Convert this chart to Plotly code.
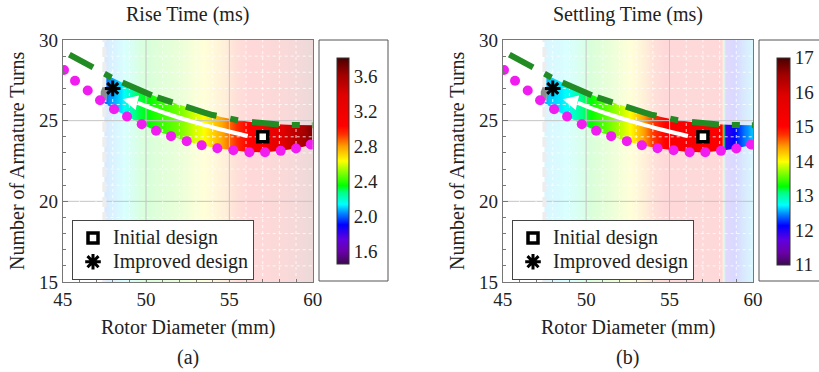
import numpy as np
import plotly.graph_objects as go

W, H = 819, 372
FONT = "Liberation Serif, Times New Roman, serif"
TXT = "#222222"

X_RANGE = [45, 60]
Y_RANGE = [15, 30]
X_TICKS = [45, 50, 55, 60]
Y_TICKS = [15, 20, 25, 30]
X_MAJOR_GRID = [50, 55]
Y_MAJOR_GRID = [20, 25]
X_MINOR_GRID = [46, 47, 48, 49, 51, 52, 53, 54, 56, 57, 58, 59]
Y_MINOR_GRID = [16, 17, 18, 19, 21, 22, 23, 24, 26, 27, 28, 29]

# feasible-region boundaries
upper_x = [45.4, 46.0, 46.5, 47.0, 47.5, 48.0, 48.5, 49.0, 49.5, 50.0, 50.5, 51.0, 51.5, 52.0, 52.5,
           53.0, 53.5, 54.0, 54.5, 55.0, 55.5, 56.0, 56.5, 57.0, 57.5, 58.0, 58.5, 59.0, 59.5, 60.0]
upper_y = [29.1, 28.75, 28.5, 28.2, 27.9, 27.63, 27.4, 27.15, 26.95, 26.7, 26.5, 26.33, 26.15, 26.0, 25.82,
           25.66, 25.5, 25.35, 25.22, 25.12, 25.03, 24.95, 24.88, 24.83, 24.79, 24.76, 24.74, 24.73, 24.72, 24.72]
lower_x = [45.08, 45.74, 46.5, 47.24, 48.08, 48.86, 49.74, 50.6, 51.5, 52.44, 53.34, 54.28, 55.24,
           56.2, 57.14, 58.08, 59.0, 59.88]
lower_y = [28.14, 27.47, 26.87, 26.27, 25.71, 25.26, 24.78, 24.37, 24.04, 23.73, 23.48, 23.29, 23.17,
           23.04, 23.04, 23.13, 23.27, 23.52]

# response values along rotor diameter
rise_x = [47.5, 48.0, 48.5, 49.0, 49.5, 50.0, 51.0, 52.0, 53.0, 53.5, 54.0, 54.5, 55.0, 55.5, 56.0,
          57.0, 58.0, 59.0, 60.0]
rise_val = [2.02, 2.07, 2.12, 2.21, 2.31, 2.35, 2.42, 2.49, 2.59, 2.64, 2.71, 2.78, 2.87, 2.96, 3.03,
            3.15, 3.34, 3.53, 3.67]
settle_x = [47.5, 48.0, 48.5, 49.0, 49.5, 50.0, 50.5, 51.0, 51.5, 52.0, 52.5, 53.0, 53.5, 54.0, 54.5,
            55.0, 56.0, 57.0, 58.0, 58.15, 58.3, 58.5, 59.0, 59.5, 60.0]
settle_val = [12.6, 12.65, 12.7, 12.8, 13.0, 13.2, 13.35, 13.5, 13.65, 13.8, 13.95, 14.2, 14.45, 14.75, 14.95,
              15.1, 15.2, 15.2, 15.15, 15.1, 11.9, 12.0, 12.2, 12.45, 12.6]
rise_ticks = [1.6, 2.0, 2.4, 2.8, 3.2, 3.6]
settle_ticks = [11, 12, 13, 14, 15, 16, 17]
rise_range = [1.46, 3.81]
settle_range = [11, 17]

# infeasible grey patch
gray_x = [47.28, 47.62, 47.66, 47.4, 47.28]
gray_y = [26.35, 26.25, 26.95, 27.1, 26.8]

# improvement arrow path
arrow_x = [56.1, 54.5, 53.0, 51.5, 50.3, 49.5]
arrow_y = [24.05, 24.45, 24.88, 25.35, 25.78, 26.1]
arrow_tip = (48.6, 26.32)

initial = (57, 24)
improved = (48, 27)
legend_names = ['Initial design', 'Improved design']

colorscale = [
    [0.0, '#3c0a50'], [0.06, '#6a00a8'], [0.12, '#6000e0'], [0.19, '#0000ff'],
    [0.25, '#0090ff'], [0.29, '#00ffff'], [0.35, '#00ff80'], [0.38, '#00ff00'],
    [0.45, '#90ff00'], [0.50, '#ffff00'], [0.57, '#ffa000'], [0.63, '#ff3000'],
    [0.67, '#ff0000'], [0.82, '#e00000'], [0.92, '#a00000'], [1.0, '#4a0000'],
]


def edges(c):
    c = np.asarray(c, float)
    mids = (c[:-1] + c[1:]) / 2
    return np.concatenate([[c[0]], mids, [c[-1]]])


def grid_lines(xs, ys):
    gx, gy = [], []
    for v in xs:
        gx += [v, v, None]
        gy += [Y_RANGE[0], Y_RANGE[1], None]
    for v in ys:
        gx += [X_RANGE[0], X_RANGE[1], None]
        gy += [v, v, None]
    return gx, gy


def big(t):
    return f'<span style="font-size:20px">{t}</span>'


fig = go.Figure()

panels = [
    dict(xa='x', ya='y', vx=rise_x, vv=rise_val, cax='coloraxis', legend='legend'),
    dict(xa='x2', ya='y2', vx=settle_x, vv=settle_val, cax='coloraxis2', legend='legend2'),
]

for p in panels:
    xa, ya = p['xa'], p['ya']
    fig.add_trace(go.Heatmap(x=edges(p['vx']), y=[Y_RANGE[0], 22.5, Y_RANGE[1]],
                             z=[p['vv'], p['vv']], zsmooth='best', coloraxis=p['cax'],
                             hoverinfo='skip', xaxis=xa, yaxis=ya, showlegend=False))
    # faded area outside the feasible band
    fig.add_trace(go.Scatter(x=[X_RANGE[0]] + upper_x + [X_RANGE[1], X_RANGE[0]],
                             y=[upper_y[0]] + upper_y + [Y_RANGE[1], Y_RANGE[1]],
                             fill='toself', fillcolor='rgba(255,255,255,0.85)', mode='lines',
                             line=dict(width=0), xaxis=xa, yaxis=ya, showlegend=False, hoverinfo='skip'))
    fig.add_trace(go.Scatter(x=[X_RANGE[0]] + lower_x + [X_RANGE[1], X_RANGE[1], X_RANGE[0]],
                             y=[lower_y[0]] + lower_y + [lower_y[-1], Y_RANGE[0], Y_RANGE[0]],
                             fill='toself', fillcolor='rgba(255,255,255,0.85)', mode='lines',
                             line=dict(width=0), xaxis=xa, yaxis=ya, showlegend=False, hoverinfo='skip'))
    gx, gy = grid_lines(X_MAJOR_GRID, Y_MAJOR_GRID)
    fig.add_trace(go.Scatter(x=gx, y=gy, mode='lines', line=dict(color='#c4c4c4', width=1),
                             xaxis=xa, yaxis=ya, showlegend=False, hoverinfo='skip'))
    gx, gy = grid_lines(X_MINOR_GRID, Y_MINOR_GRID)
    fig.add_trace(go.Scatter(x=gx, y=gy, mode='lines',
                             line=dict(color='rgba(255,255,255,0.8)', width=1, dash='dot'),
                             xaxis=xa, yaxis=ya, showlegend=False, hoverinfo='skip'))
    fig.add_trace(go.Scatter(x=[rise_x[0], rise_x[0]], y=Y_RANGE, mode='lines',
                             line=dict(color='#ededed', width=4, dash='10px,5px'),
                             xaxis=xa, yaxis=ya, showlegend=False, hoverinfo='skip'))
    fig.add_trace(go.Scatter(x=gray_x, y=gray_y, fill='toself', fillcolor='#8c8c8c', mode='lines',
                             line=dict(width=0), xaxis=xa, yaxis=ya, showlegend=False, hoverinfo='skip'))
    fig.add_trace(go.Scatter(x=upper_x, y=upper_y, mode='lines',
                             line=dict(color='#238b23', width=6,
                                       dash='27px,13px,8px,12px,32px,6px,16px,14px,32px,14px,8px,14px'),
                             xaxis=xa, yaxis=ya, showlegend=False, hoverinfo='skip'))
    fig.add_trace(go.Scatter(x=lower_x, y=lower_y, mode='markers',
                             marker=dict(color='#f01cf0', size=10),
                             xaxis=xa, yaxis=ya, showlegend=False, hoverinfo='skip'))
    fig.add_trace(go.Scatter(x=arrow_x, y=arrow_y, mode='lines',
                             line=dict(color='white', width=4, shape='spline'),
                             xaxis=xa, yaxis=ya, showlegend=False, hoverinfo='skip'))
    fig.add_trace(go.Scatter(x=[initial[0]], y=[initial[1]], mode='markers', name=big(legend_names[0]),
                             marker=dict(symbol='square', size=10, color='white',
                                         line=dict(color='black', width=3.5)),
                             xaxis=xa, yaxis=ya, legend=p['legend']))
    fig.add_trace(go.Scatter(x=[improved[0]], y=[improved[1]], mode='markers', name=big(legend_names[1]),
                             marker=dict(symbol='asterisk-open', size=13, color='black',
                                         line=dict(color='black', width=3)),
                             xaxis=xa, yaxis=ya, legend=p['legend']))
    fig.add_annotation(x=arrow_tip[0], y=arrow_tip[1], ax=arrow_x[-1], ay=arrow_y[-1],
                       xref=xa, yref=ya, axref=xa, ayref=ya, text='', showarrow=True,
                       arrowhead=2, arrowsize=0.75, arrowwidth=4, arrowcolor='white', standoff=0)

axis_common = dict(showline=True, mirror=True, linecolor='#777777', linewidth=1,
                   ticks='inside', ticklen=5, tickcolor='#777777', showgrid=False, zeroline=False,
                   tickfont=dict(family=FONT, size=19, color=TXT),
                   minor=dict(ticks='inside', ticklen=3, dtick=1, tickcolor='#777777', showgrid=False))

ydom = [1 - 282 / H, 1 - 40 / H]
legend_common = dict(xanchor='left', yanchor='top', bgcolor='white',
                     bordercolor='#444444', borderwidth=1, font=dict(family=FONT, size=16, color=TXT),
                     tracegroupgap=0)
fig.update_layout(
    width=W, height=H, margin=dict(l=0, r=0, t=0, b=0, autoexpand=False),
    paper_bgcolor='white', plot_bgcolor='white',
    xaxis=dict(domain=[62.7 / W, 312.7 / W], range=X_RANGE, tickvals=X_TICKS, anchor='y', **axis_common),
    yaxis=dict(domain=ydom, range=Y_RANGE, tickvals=Y_TICKS, anchor='x', **axis_common),
    xaxis2=dict(domain=[502.7 / W, 753 / W], range=X_RANGE, tickvals=X_TICKS, anchor='y2', **axis_common),
    yaxis2=dict(domain=ydom, range=Y_RANGE, tickvals=Y_TICKS, anchor='x2', **axis_common),
    coloraxis=dict(cmin=rise_range[0], cmax=rise_range[1], colorscale=colorscale,
                   colorbar=dict(x=337 / W, xanchor='left', y=1 - 161 / H, yanchor='middle',
                                 lenmode='pixels', len=206, thicknessmode='pixels', thickness=12,
                                 xpad=0, ypad=0, outlinewidth=1, outlinecolor='#333333',
                                 tickvals=rise_ticks, ticktext=[f'{v:.1f}' for v in rise_ticks],
                                 ticks='', tickfont=dict(family=FONT, size=19, color=TXT))),
    coloraxis2=dict(cmin=settle_range[0], cmax=settle_range[1], colorscale=colorscale,
                    colorbar=dict(x=777 / W, xanchor='left', y=1 - 161 / H, yanchor='middle',
                                  lenmode='pixels', len=207, thicknessmode='pixels', thickness=13,
                                  xpad=0, ypad=0, outlinewidth=1, outlinecolor='#333333',
                                  tickvals=settle_ticks, ticktext=[str(v) for v in settle_ticks],
                                  ticks='', tickfont=dict(family=FONT, size=19, color=TXT))),
    legend=dict(x=72 / W, y=1 - 220 / H, **legend_common),
    legend2=dict(x=512 / W, y=1 - 220 / H, **legend_common),
    shapes=[
        dict(type='rect', xref='paper', yref='paper', x0=319 / W, x1=388 / W,
             y0=1 - 281 / H, y1=1 - 40 / H, line=dict(color='#555555', width=1)),
        dict(type='rect', xref='paper', yref='paper', x0=759 / W, x1=828 / W,
             y0=1 - 281 / H, y1=1 - 40 / H, line=dict(color='#555555', width=1)),
    ],
)

texts = [
    ('Rise Time (ms)', 187.7, 15, 0), ('Settling Time (ms)', 627.9, 15, 0),
    ('Rotor Diameter (mm)', 187.7, 327, 0), ('Rotor Diameter (mm)', 627.9, 327, 0),
    ('(a)', 187.7, 357, 0), ('(b)', 627.9, 357, 0),
    ('Number of Armature Turns', 17, 161, -90), ('Number of Armature Turns', 457, 161, -90),
]
for t, px, py, ang in texts:
    fig.add_annotation(text=t, x=px / W, y=1 - py / H, xref='paper', yref='paper',
                       xanchor='center', yanchor='middle', showarrow=False, textangle=ang,
                       font=dict(family=FONT, size=20, color=TXT))

fig.write_html("out.html")
